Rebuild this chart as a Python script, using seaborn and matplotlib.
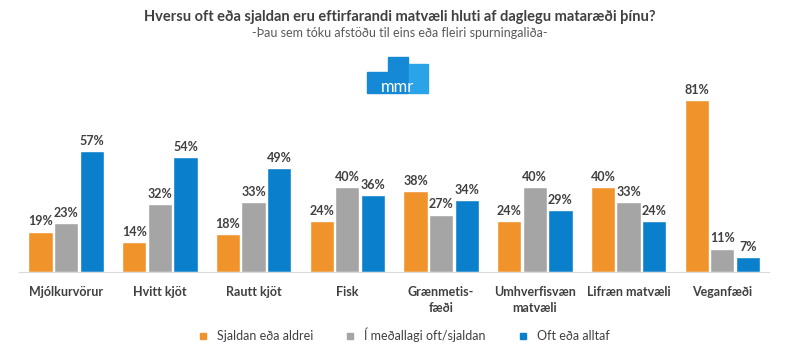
import matplotlib.pyplot as plt
import matplotlib.patches as mpatches
import numpy as np
import pandas as pd
import seaborn as sns

categories = ["Mjólkurvörur", "Hvitt kjöt", "Rautt kjöt", "Fisk", "Grænmetis-\nfæði",
              "Umhverfisvæn\nmatvæli", "Lifræn matvæli", "Veganfæði"]
series = ["Sjaldan eða aldrei", "Í meðallagi oft/sjaldan", "Oft eða alltaf"]
sjaldan = [19, 14, 18, 24, 38, 24, 40, 81]
medal = [23, 32, 33, 40, 27, 40, 33, 11]
oft = [57, 54, 49, 36, 34, 29, 24, 7]
colors = ["#F0932B", "#A5A5A5", "#0A7FCB"]

df = pd.DataFrame({"cat": categories * 3,
                   "series": np.repeat(series, len(categories)),
                   "val": sjaldan + medal + oft})

sns.set_style("white")
plt.rcParams["font.family"] = ["Lato", "DejaVu Sans"]
txt = "#404040"

fig = plt.figure(figsize=(8, 3.5), dpi=100)
ax = fig.add_axes([0.024, 0.223, 0.9375, 0.516])
sns.barplot(data=df, x="cat", y="val", hue="series", palette=colors,
            width=0.82, gap=0.05, ax=ax, legend=False, saturation=1)
for cont in ax.containers:
    ax.bar_label(cont, fmt="%d%%", padding=3, fontsize=9, fontweight="bold", color=txt)
ax.set_ylim(0, 85)
ax.set_xlim(-0.5, len(categories) - 0.5)
ax.set_yticks([])
ax.set_xlabel("")
ax.set_ylabel("")
for s in ["top", "right", "left"]:
    ax.spines[s].set_visible(False)
ax.spines["bottom"].set_color("#D9D9D9")
ax.tick_params(axis="x", length=0, pad=10)
for lbl in ax.get_xticklabels():
    lbl.set_fontsize(9)
    lbl.set_fontweight("bold")
    lbl.set_color(txt)
    lbl.set_linespacing(1.4)

fig.text(0.5, 0.95, "Hversu oft eða sjaldan eru eftirfarandi matvæli hluti af daglegu mataræði þínu?",
         ha="center", va="center", fontsize=10.5, fontweight="bold", color=txt)
fig.text(0.5, 0.905, "-Þau sem tóku afstöðu til eins eða fleiri spurningaliða-",
         ha="center", va="center", fontsize=9, color="#595959")

# logo
for x0, w, h, c in [(367, 20, 21, "#1589D6"), (388, 20, 36, "#1589D6"), (409, 19, 29, "#2AA3E8")]:
    fig.patches.append(mpatches.Rectangle((x0 / 800, (350 - 93) / 350), w / 800, h / 350,
                                          transform=fig.transFigure, color=c))
fig.text(397 / 800, 1 - 87 / 350, "mmr", ha="center", va="center", fontsize=12,
         color="white")

handles = [plt.Line2D([], [], marker="s", linestyle="", color=c, markersize=5) for c in colors]
fig.legend(handles, series, loc="center", bbox_to_anchor=(0.5, 1 - 335 / 350), ncol=3,
           frameon=False, fontsize=9, handletextpad=0.1, columnspacing=2.0,
           labelcolor=txt)

fig.savefig("out.png", dpi=100)
